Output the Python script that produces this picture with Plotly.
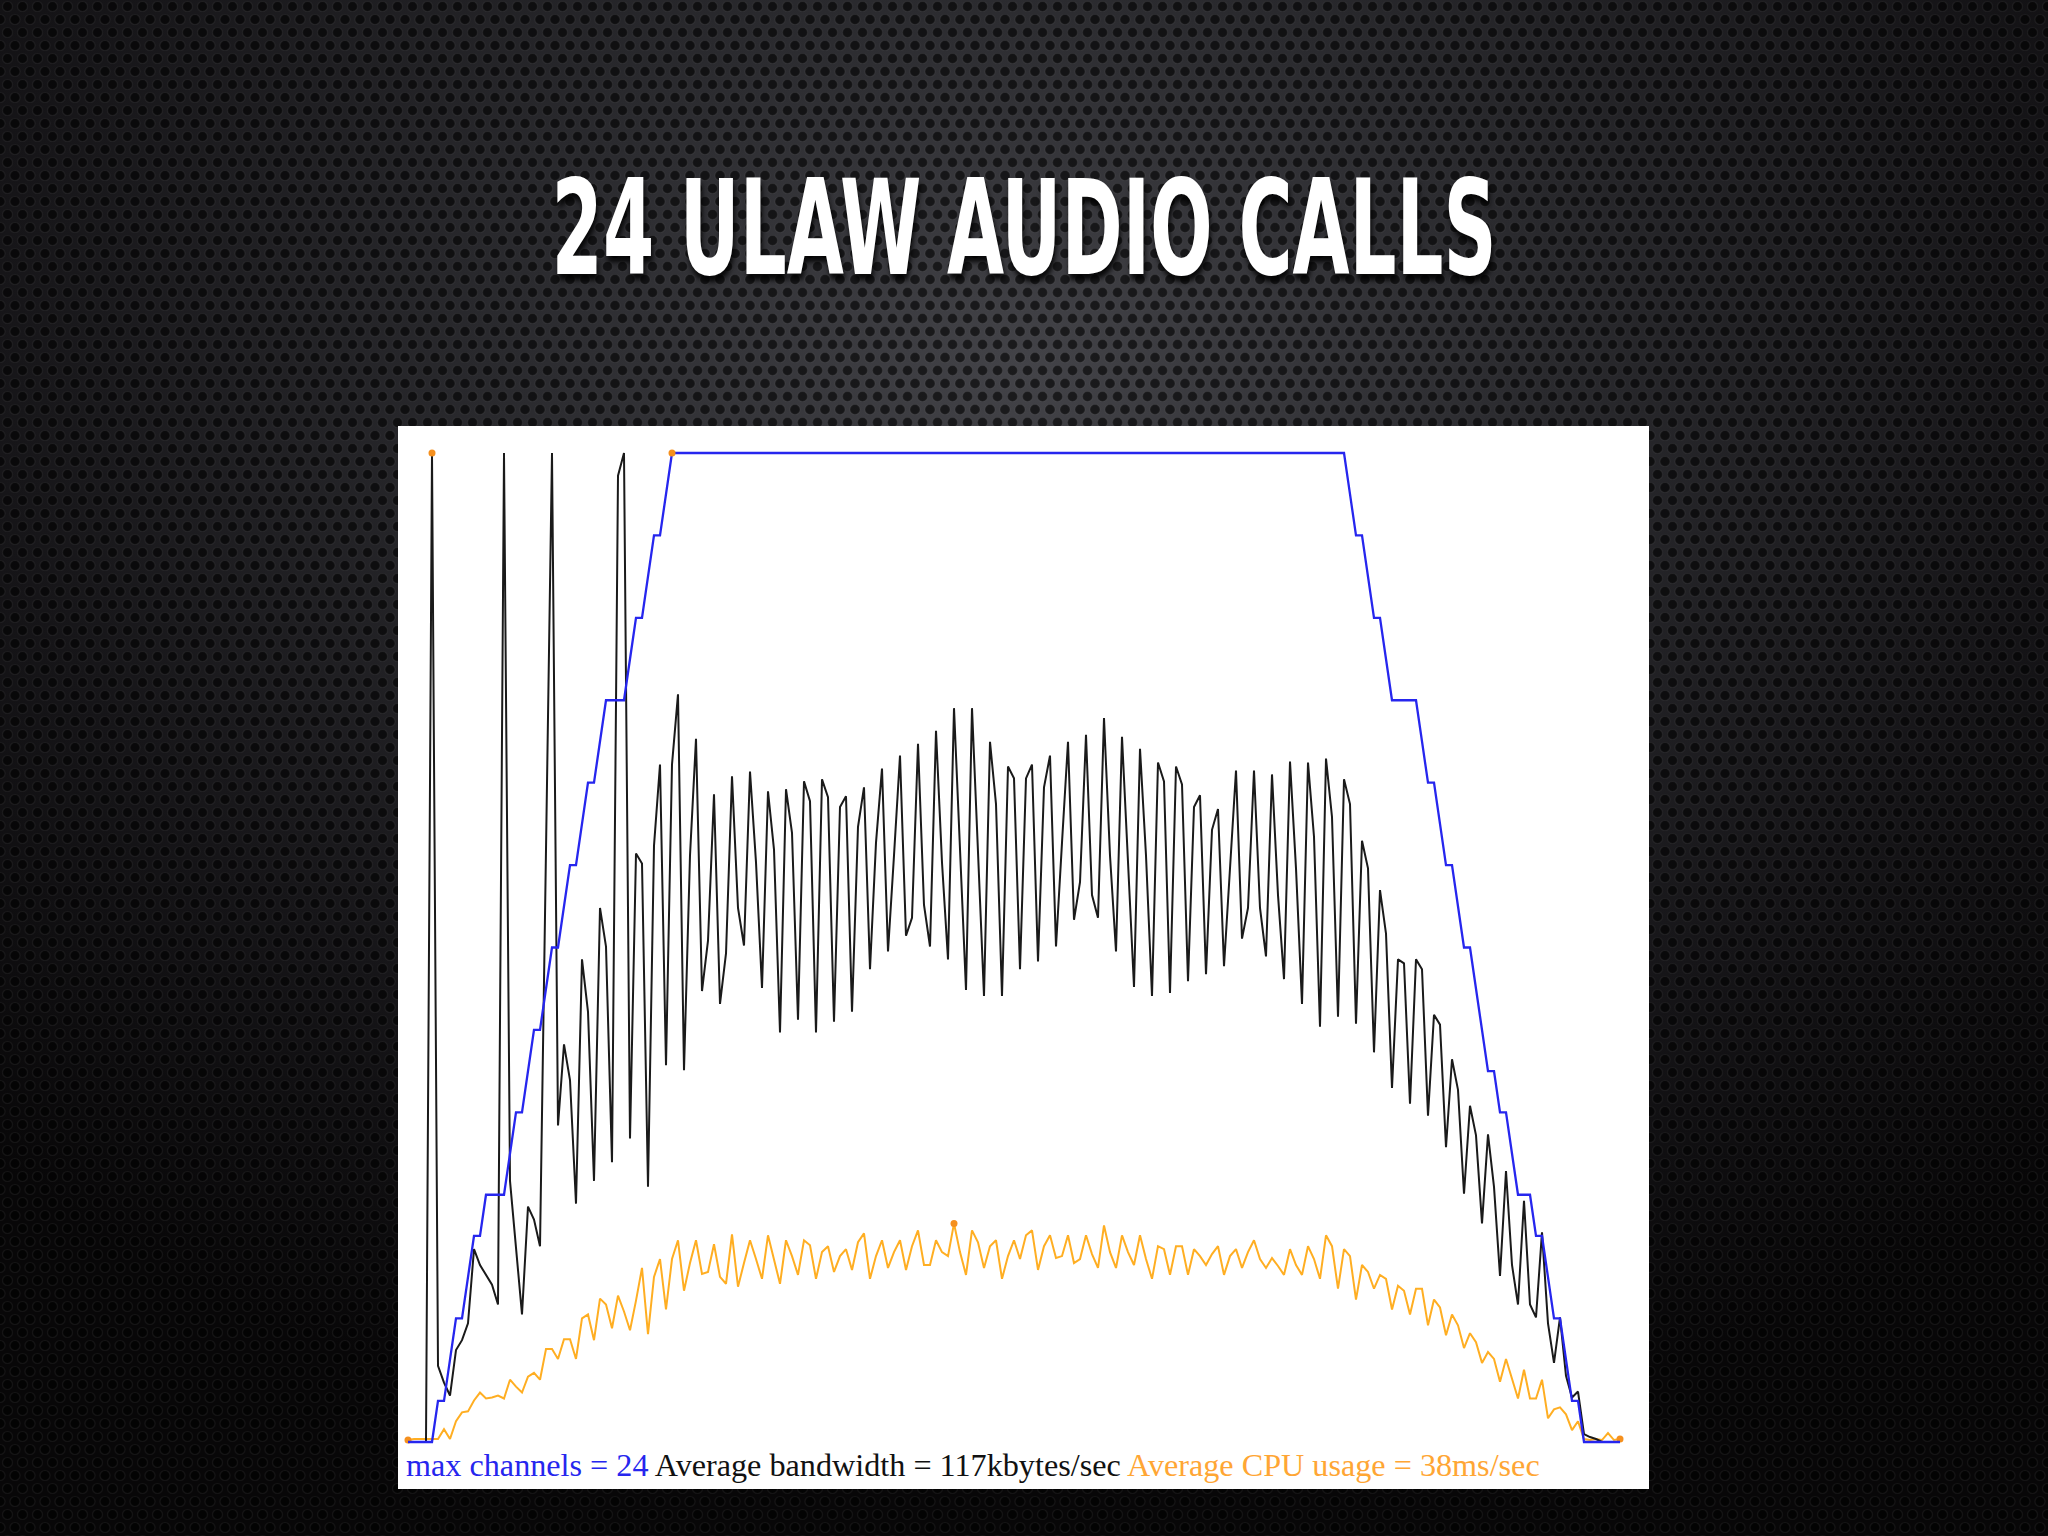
import base64
import plotly.graph_objects as go

# ---------------- data ----------------
# sample index (one sample every ~6 px in the original chart)
sample = list(range(203))

# active channels
channels = [
    0, 0, 0, 0, 0, 1, 1, 2, 3, 3,
    4, 5, 5, 6, 6, 6, 6, 7, 8, 8,
    9, 10, 10, 11, 12, 12, 13, 14, 14, 15,
    16, 16, 17, 18, 18, 18, 18, 19, 20, 20,
    21, 22, 22, 23, 24, 24, 24, 24, 24, 24,
    24, 24, 24, 24, 24, 24, 24, 24, 24, 24,
    24, 24, 24, 24, 24, 24, 24, 24, 24, 24,
    24, 24, 24, 24, 24, 24, 24, 24, 24, 24,
    24, 24, 24, 24, 24, 24, 24, 24, 24, 24,
    24, 24, 24, 24, 24, 24, 24, 24, 24, 24,
    24, 24, 24, 24, 24, 24, 24, 24, 24, 24,
    24, 24, 24, 24, 24, 24, 24, 24, 24, 24,
    24, 24, 24, 24, 24, 24, 24, 24, 24, 24,
    24, 24, 24, 24, 24, 24, 24, 24, 24, 24,
    24, 24, 24, 24, 24, 24, 24, 24, 24, 24,
    24, 24, 24, 24, 24, 24, 24, 23, 22, 22,
    21, 20, 20, 19, 18, 18, 18, 18, 18, 17,
    16, 16, 15, 14, 14, 13, 12, 12, 11, 10,
    9, 9, 8, 8, 7, 6, 6, 6, 5, 5,
    4, 3, 3, 2, 1, 1, 0, 0, 0, 0,
    0, 0, 0,
]

# bandwidth, % of the peak value
bandwidth_pct = [
    0, 0, 0, 0, 100, 7.7, 6.0, 4.7, 9.3, 10.3,
    12.0, 19.5, 17.9, 16.9, 15.9, 13.9, 100, 26.4, 19.5, 12.9,
    23.8, 22.5, 19.8, 60, 100, 32.0, 40.2, 36.6, 24.1, 48.8,
    43.5, 26.4, 54.0, 50.1, 28.3, 97.7, 100, 30.7, 59.5, 58.5,
    25.8, 60.3, 68.5, 38.1, 68.5, 75.6, 37.6, 59.3, 71.1, 45.6,
    50.7, 65.5, 44.3, 49.4, 67.3, 54.0, 50.2, 67.8, 58.6, 45.9,
    65.8, 59.9, 41.4, 66.0, 61.6, 42.7, 66.8, 64.8, 41.4, 67.0,
    65.2, 42.5, 64.2, 65.3, 43.5, 62.2, 66.2, 47.8, 60.6, 68.1,
    49.6, 59.3, 69.4, 51.2, 53.0, 70.6, 54.3, 50.1, 71.9, 58.6,
    48.8, 74.2, 59.3, 45.7, 74.2, 60.2, 45.1, 70.8, 64.5, 45.1,
    68.3, 67.1, 47.8, 67.1, 68.5, 48.6, 66.2, 69.4, 50.1, 60.6,
    70.8, 52.8, 56.6, 71.5, 55.3, 53.0, 73.2, 59.3, 49.6, 71.3,
    59.3, 46.0, 70.1, 59.3, 45.1, 68.7, 66.8, 45.4, 68.3, 66.5,
    46.6, 64.2, 65.4, 47.3, 61.9, 64.0, 48.1, 58.6, 67.9, 50.9,
    54.0, 67.9, 54.0, 49.1, 67.5, 55.3, 46.8, 68.8, 58.0, 44.3,
    68.7, 61.2, 42.0, 69.1, 63.2, 43.0, 67.0, 64.5, 42.3, 60.8,
    58.0, 39.4, 55.8, 51.4, 35.8, 48.8, 48.4, 34.2, 48.8, 47.8,
    33.0, 43.2, 42.2, 29.8, 38.7, 35.6, 25.1, 34.0, 31.0, 22.1,
    31.1, 25.8, 16.8, 27.4, 17.9, 13.9, 24.4, 13.9, 12.6, 21.2,
    12.0, 8.0, 12.6, 6.7, 4.5, 5.1, 0.8, 0.5, 0.3, 0,
    0, 0, 0,
]

# CPU usage, % of the same plot height
cpu_pct = [
    0.2, 0.3, 0.3, 0.3, 0.3, 0.3, 1.3, 0.3, 2.1, 3.0,
    3.1, 4.2, 5.0, 4.4, 4.5, 4.7, 4.4, 6.3, 5.6, 5.0,
    6.6, 7.0, 6.3, 9.4, 9.4, 8.4, 10.4, 10.4, 8.4, 12.5,
    12.9, 10.3, 14.5, 13.9, 11.5, 14.8, 13.2, 11.3, 14.3, 17.6,
    10.9, 16.7, 18.5, 13.4, 18.5, 20.4, 15.3, 18.1, 20.4, 17.0,
    17.2, 20.0, 16.7, 16.0, 21.0, 15.7, 18.1, 20.4, 18.5, 16.5,
    20.9, 18.5, 16.0, 20.4, 18.8, 16.9, 20.4, 19.9, 16.5, 19.2,
    19.8, 17.2, 18.8, 19.5, 17.4, 20.2, 21.1, 16.5, 18.8, 20.4,
    17.6, 19.2, 20.4, 17.4, 19.8, 21.4, 17.9, 17.9, 20.4, 19.2,
    18.8, 22.1, 19.2, 16.9, 21.4, 20.2, 17.6, 19.8, 20.4, 16.5,
    18.8, 20.4, 18.5, 20.9, 21.4, 17.4, 19.8, 20.9, 18.6, 18.8,
    20.9, 18.1, 18.5, 20.9, 19.0, 17.6, 21.9, 19.2, 17.6, 20.9,
    19.2, 17.9, 20.9, 18.5, 16.5, 19.8, 19.5, 16.9, 19.8, 19.8,
    16.9, 19.5, 18.8, 17.9, 19.0, 19.8, 16.9, 18.8, 19.5, 17.6,
    19.2, 20.4, 18.5, 17.6, 18.6, 17.8, 16.9, 19.5, 17.9, 16.9,
    19.8, 18.5, 16.5, 20.9, 19.8, 15.5, 19.5, 18.8, 14.4, 17.9,
    17.2, 15.5, 16.9, 16.5, 13.4, 15.8, 15.3, 12.9, 15.5, 15.5,
    11.8, 14.4, 13.6, 10.8, 12.9, 11.8, 9.5, 11.0, 10.1, 8.0,
    9.1, 8.4, 6.1, 8.4, 6.3, 4.4, 7.3, 4.4, 4.4, 6.3,
    2.4, 3.3, 3.5, 2.8, 1.2, 2.1, 0.3, 0.2, 0.3, 0.2,
    0.9, 0.2, 0.3,
]

title_text = "24 ULAW AUDIO CALLS"
summary_channels = "max channels = 24"
summary_bandwidth = "Average bandwidth = 117kbytes/sec"
summary_cpu = "Average CPU usage = 38ms/sec"

# ---------------- styling ----------------
W, H = 2048, 1536
BLUE = "#2626ee"
BLACK = "#1a1a1a"
ORANGE = "#FFAE22"
DOT = "#F5901E"

# background: dark perforated-metal look (pure styling)
svg = f"""<svg xmlns='http://www.w3.org/2000/svg' width='{W}' height='{H}'>
<defs>
<radialGradient id='g' cx='50%' cy='24%' r='72%'>
<stop offset='0' stop-color='#434348'/>
<stop offset='0.35' stop-color='#2a2a2e'/>
<stop offset='0.7' stop-color='#161518'/>
<stop offset='1' stop-color='#080708'/>
</radialGradient>
<pattern id='p' width='15' height='26' patternUnits='userSpaceOnUse'>
<circle cx='7.5' cy='6.5' r='5' fill='#000' fill-opacity='0.6' stroke='#999' stroke-opacity='0.10' stroke-width='1.2'/>
<circle cx='0' cy='19.5' r='5' fill='#000' fill-opacity='0.6' stroke='#999' stroke-opacity='0.10' stroke-width='1.2'/>
<circle cx='15' cy='19.5' r='5' fill='#000' fill-opacity='0.6' stroke='#999' stroke-opacity='0.10' stroke-width='1.2'/>
</pattern>
</defs>
<rect width='100%' height='100%' fill='url(#g)'/>
<rect width='100%' height='100%' fill='url(#p)'/>
</svg>"""
bg_uri = "data:image/svg+xml;base64," + base64.b64encode(svg.encode()).decode()

fig = go.Figure()

fig.add_trace(go.Scatter(x=sample, y=channels, mode="lines", yaxis="y2",
                         line=dict(color=BLUE, width=2.3), hoverinfo="skip"))
fig.add_trace(go.Scatter(x=sample, y=cpu_pct, mode="lines",
                         line=dict(color=ORANGE, width=2.0), hoverinfo="skip"))
fig.add_trace(go.Scatter(x=sample, y=bandwidth_pct, mode="lines",
                         line=dict(color=BLACK, width=2.0), hoverinfo="skip"))

# extreme-value dots
i_bw = bandwidth_pct.index(max(bandwidth_pct))
i_cpu = cpu_pct.index(max(cpu_pct))
i_ch = channels.index(max(channels))
fig.add_trace(go.Scatter(
    x=[sample[i_bw], sample[i_cpu], sample[0], sample[-1]],
    y=[bandwidth_pct[i_bw], cpu_pct[i_cpu], cpu_pct[0], cpu_pct[-1]],
    mode="markers", marker=dict(color=DOT, size=7), cliponaxis=False,
    hoverinfo="skip"))
fig.add_trace(go.Scatter(
    x=[sample[i_ch]], y=[channels[i_ch]], yaxis="y2",
    mode="markers", marker=dict(color=DOT, size=7), cliponaxis=False,
    hoverinfo="skip"))

# axes geometry: x range [-1, 203] over px 402..1626; y range [-2, 102] over px 1462..433
xd = [402 / W, 1626 / W]
yd = [1 - 1461.8 / H, 1 - 433.2 / H]
ax_common = dict(visible=False, showgrid=False, zeroline=False, fixedrange=True)

fig.update_layout(
    width=W, height=H,
    margin=dict(l=0, r=0, t=0, b=0),
    paper_bgcolor="#1b1b1e",
    plot_bgcolor="rgba(0,0,0,0)",
    showlegend=False,
    xaxis=dict(domain=xd, range=[-1, 203], **ax_common),
    yaxis=dict(domain=yd, range=[-2, 102], **ax_common),
    yaxis2=dict(domain=yd, range=[-2 * 0.24, 102 * 0.24], overlaying="y", **ax_common),
    images=[dict(source=bg_uri, xref="paper", yref="paper", x=0, y=1,
                 sizex=1, sizey=1, sizing="stretch", layer="below")],
    shapes=[dict(type="rect", xref="paper", yref="paper",
                 x0=398 / W, x1=1649 / W, y0=1 - 1489 / H, y1=1 - 426 / H,
                 fillcolor="#ffffff", line=dict(width=0), layer="below")],
    annotations=[
        dict(text=title_text, xref="paper", yref="paper", x=0.5, y=1 - 228 / H,
             xanchor="center", yanchor="middle", showarrow=False,
             font=dict(family="Noto Sans ExtraCondensed, Noto Sans Condensed, "
                              "Liberation Sans Narrow, DejaVu Sans Condensed, sans-serif",
                       size=132, color="#ffffff", weight="bold",
                       shadow="2px 5px 6px rgba(0,0,0,0.85)")),
        dict(text=(f"<span style='color:{BLUE}'>{summary_channels}</span> "
                   f"{summary_bandwidth} "
                   f"<span style='color:#FFA634'>{summary_cpu}</span>"),
             xref="paper", yref="paper", x=404 / W, y=1 - 1465 / H,
             xanchor="left", yanchor="middle", showarrow=False,
             font=dict(family="Liberation Serif, Times New Roman, serif",
                       size=32.2, color="#111111")),
    ],
)

# page styling: no body margin; condense the headline to the slide's narrow display face
post = """
document.body.style.margin = '0';
document.body.style.overflow = 'hidden';
var nodes = document.querySelectorAll('text.annotation-text');
nodes.forEach(function(n){
  if (n.textContent.indexOf('ULAW') >= 0) {
    var b = n.getBBox();
    var sx = 945 / b.width;
    if (sx < 1) {
      var cx = b.x + b.width / 2;
      var prev = n.getAttribute('transform') || '';
      n.setAttribute('transform', prev + ' translate(' + cx + ',0) scale(' + sx + ',1) translate(' + (-cx) + ',0)');
    }
  }
});
"""

fig.write_html("out.html", post_script=post,
               config={"displayModeBar": False, "staticPlot": True})
